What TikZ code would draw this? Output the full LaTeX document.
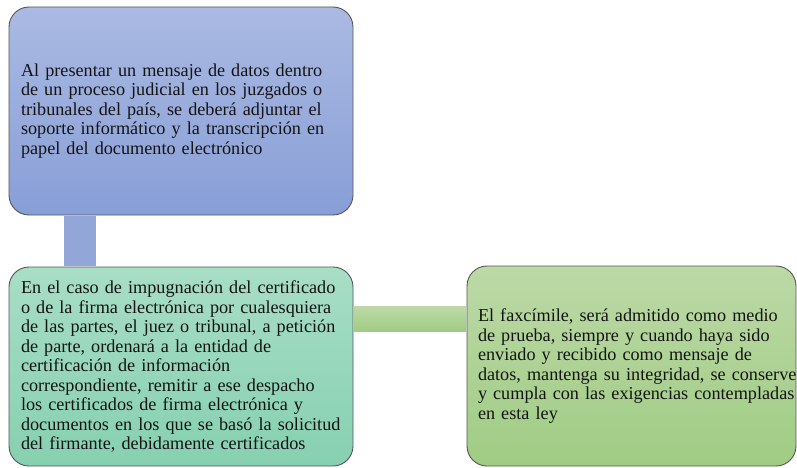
\documentclass[tikz,border=0pt]{standalone}
\usepackage{fontspec}
\setmainfont{Liberation Serif}
\usetikzlibrary{calc}
\definecolor{bluetop}{RGB}{170,186,226}
\definecolor{bluebot}{RGB}{136,158,215}
\definecolor{bluebar}{RGB}{146,166,216}
\definecolor{tealtop}{RGB}{168,222,198}
\definecolor{tealbot}{RGB}{134,208,176}
\definecolor{greentop}{RGB}{188,217,166}
\definecolor{greenbot}{RGB}{160,204,132}
\definecolor{baredge}{RGB}{85,85,85}
\tikzset{
  box/.style={draw=baredge, line width=0.9pt, rounded corners=20pt, align=left,
    inner xsep=12pt, inner ysep=0pt,
    font=\fontsize{18.2}{19.5}\selectfont, text=black!92},
}
\begin{document}
\begin{tikzpicture}[x=1pt,y=-1pt]
\useasboundingbox (0,0) rectangle (797,468);
\node[box, top color=bluetop, bottom color=bluebot, text width=320pt, minimum height=208pt] (a) at (181,111)
 {\mbox{Al presentar un mensaje de datos dentro}\\
  \mbox{de un proceso judicial en los juzgados o}\\
  \mbox{tribunales del país, se deberá adjuntar el}\\
  \mbox{soporte informático y la transcripción en}\\
  \mbox{papel del documento electrónico}};
\node[box, top color=tealtop, bottom color=tealbot, text width=320pt, minimum height=199pt] (b) at (181,366.5)
 {\mbox{En el caso de impugnación del certificado}\\
  \mbox{o de la firma electrónica por cualesquiera}\\
  \mbox{de las partes, el juez o tribunal, a petición}\\
  \mbox{de parte, ordenará a la entidad de}\\
  \mbox{certificación de información}\\
  \mbox{correspondiente, remitir a ese despacho}\\
  \mbox{los certificados de firma electrónica y}\\
  \mbox{documentos en los que se basó la solicitud}\\
  \mbox{del firmante, debidamente certificados}};
\node[box, top color=greentop, bottom color=greenbot, inner xsep=11pt, text width=307pt, minimum height=200pt] (c) at (631.5,366)
 {\mbox{El faxcímile, será admitido como medio}\\
  \mbox{de prueba, siempre y cuando haya sido}\\
  \mbox{enviado y recibido como mensaje de}\\
  \mbox{datos, mantenga su integridad, se conserve}\\
  \mbox{y cumpla con las exigencias contempladas}\\
  \mbox{en esta ley}};
\fill[bluebar] ($(a.south west)+(55,0.5)$) rectangle ($(b.north west)+(87,-0.5)$);
\shade[top color=greentop, bottom color=greenbot] ($(b.north east)+(0.5,40)$) rectangle ($(c.north west)+(-0.5,66)$);
\end{tikzpicture}
\end{document}
